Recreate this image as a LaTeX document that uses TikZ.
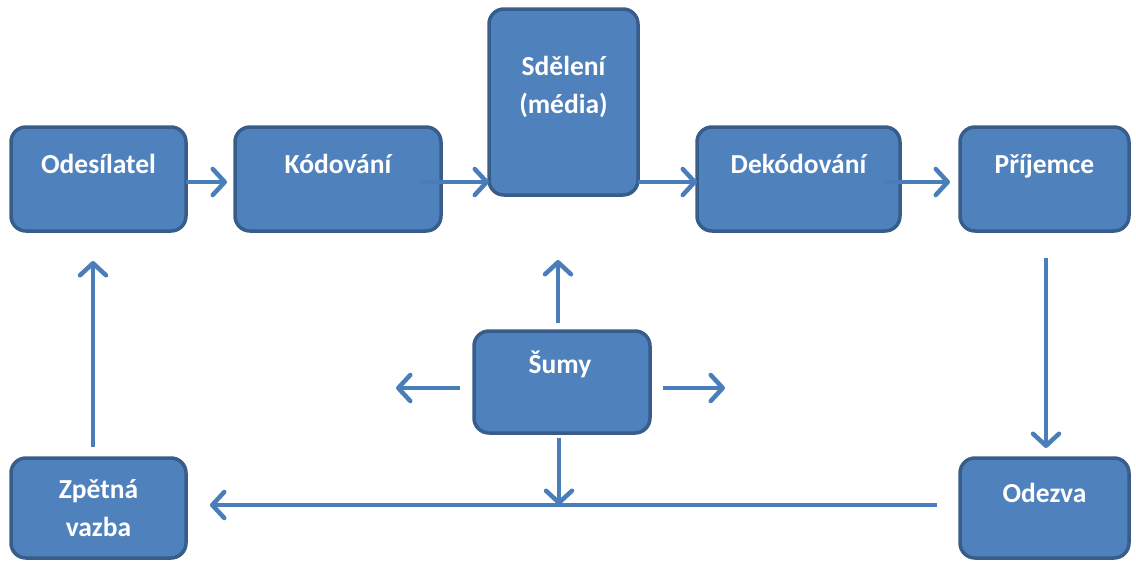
\documentclass[tikz,border=0pt]{standalone}
\usepackage{fontspec}
\setmainfont{Carlito}
\usetikzlibrary{arrows.meta,calc}
\definecolor{boxfill}{HTML}{4F81BD}
\definecolor{boxline}{HTML}{385D8A}
\definecolor{arrcol}{HTML}{4A7EBB}
\begin{document}
\begin{tikzpicture}[x=1pt,y=-1pt,
  box/.style={draw=boxline, fill=boxfill, line width=3.5pt, rounded corners=15pt, inner sep=0pt, outer sep=0pt},
  txt/.style={text=white, font=\fontsize{27.5}{38}\selectfont\bfseries, align=center, anchor=base, inner sep=0pt},
  arr/.style={draw=arrcol, line width=4.5pt, -{Straight Barb[length=12pt,width=26pt,round]}},
  plainline/.style={draw=arrcol, line width=4.5pt}]
\useasboundingbox (0,0) rectangle (1136,562);
% boxes
\node[box, minimum width=175pt, minimum height=104pt] (ode) at (98.5,179) {};
\node[box, minimum width=206pt, minimum height=104pt] (kod) at (338,179) {};
\node[box, minimum width=149pt, minimum height=186pt] (sde) at (563.5,102) {};
\node[box, minimum width=203pt, minimum height=104pt] (dek) at (798.5,179) {};
\node[box, minimum width=169pt, minimum height=104pt] (pri) at (1044.5,179) {};
\node[box, minimum width=176pt, minimum height=102pt] (sum) at (562,382) {};
\node[box, minimum width=175pt, minimum height=100pt] (zpe) at (98.5,508) {};
\node[box, minimum width=169pt, minimum height=100pt] (odz) at (1044.5,508) {};
% texts
\node[txt] (odeT) at (98.5,173) {Odesílatel};
\node[txt] (kodT) at (338,173) {Kódování};
\node[txt] (sdeT) at (563.5,113) {Sdělení\\(média)};
\node[txt] (dekT) at (798.5,173) {Dekódování};
\node[txt] (priT) at (1044.5,173) {Příjemce};
\node[txt] (sumT) at (560,373) {Šumy};
\node[txt] (zpeT) at (98.5,536) {Zpětná\\vazba};
\node[txt] (odzT) at (1044.5,502) {Odezva};
% free ends of the noise arrows
\coordinate (sumL) at ($(sum.west)+(-78pt,-6pt)$);
\coordinate (sumR) at ($(sum.east)+(75pt,-6pt)$);
% connectors
\draw[arr] ($(ode.east)+(0,-3pt)$) -- ($(kod.west)+(-8pt,-3pt)$);
\draw[arr] ($(kod.east)+(-21pt,-3pt)$) -- ($(kod.east -| sde.west)+(0,-3pt)$);
\draw[arr] ($(kod.east -| sde.east)+(0,-3pt)$) -- ($(dek.west)+(0,-3pt)$);
\draw[arr] ($(dek.east)+(-17pt,-3pt)$) -- ($(pri.west)+(-10pt,-3pt)$);
\draw[arr] ($(pri.south)+(1.5pt,-27pt)$) -- ($(odz.north)+(1.5pt,10pt)$);
\draw[arr] ($(odz.west)+(-23pt,3pt)$) -- ($(zpe.east)+(24pt,3pt)$);
\draw[arr] ($(zpe.north)+(-5.5pt,11pt)$) -- ($(ode.south)+(-5.5pt,-30pt)$);
\draw[arr] ($(sum.north)+(-4pt,8pt)$) -- ($(sde.south)+(-5.5pt,-65pt)$);
\draw[arr] ($(sum.west)+(-14pt,-6pt)$) -- (sumL);
\draw[arr] ($(sum.east)+(13pt,-6pt)$) -- (sumR);
\draw[arr] ($(sum.south)+(-3pt,-5pt)$) -- ($(sum.south |- odz.west)+(-3pt,3pt)$);
\end{tikzpicture}
\end{document}
